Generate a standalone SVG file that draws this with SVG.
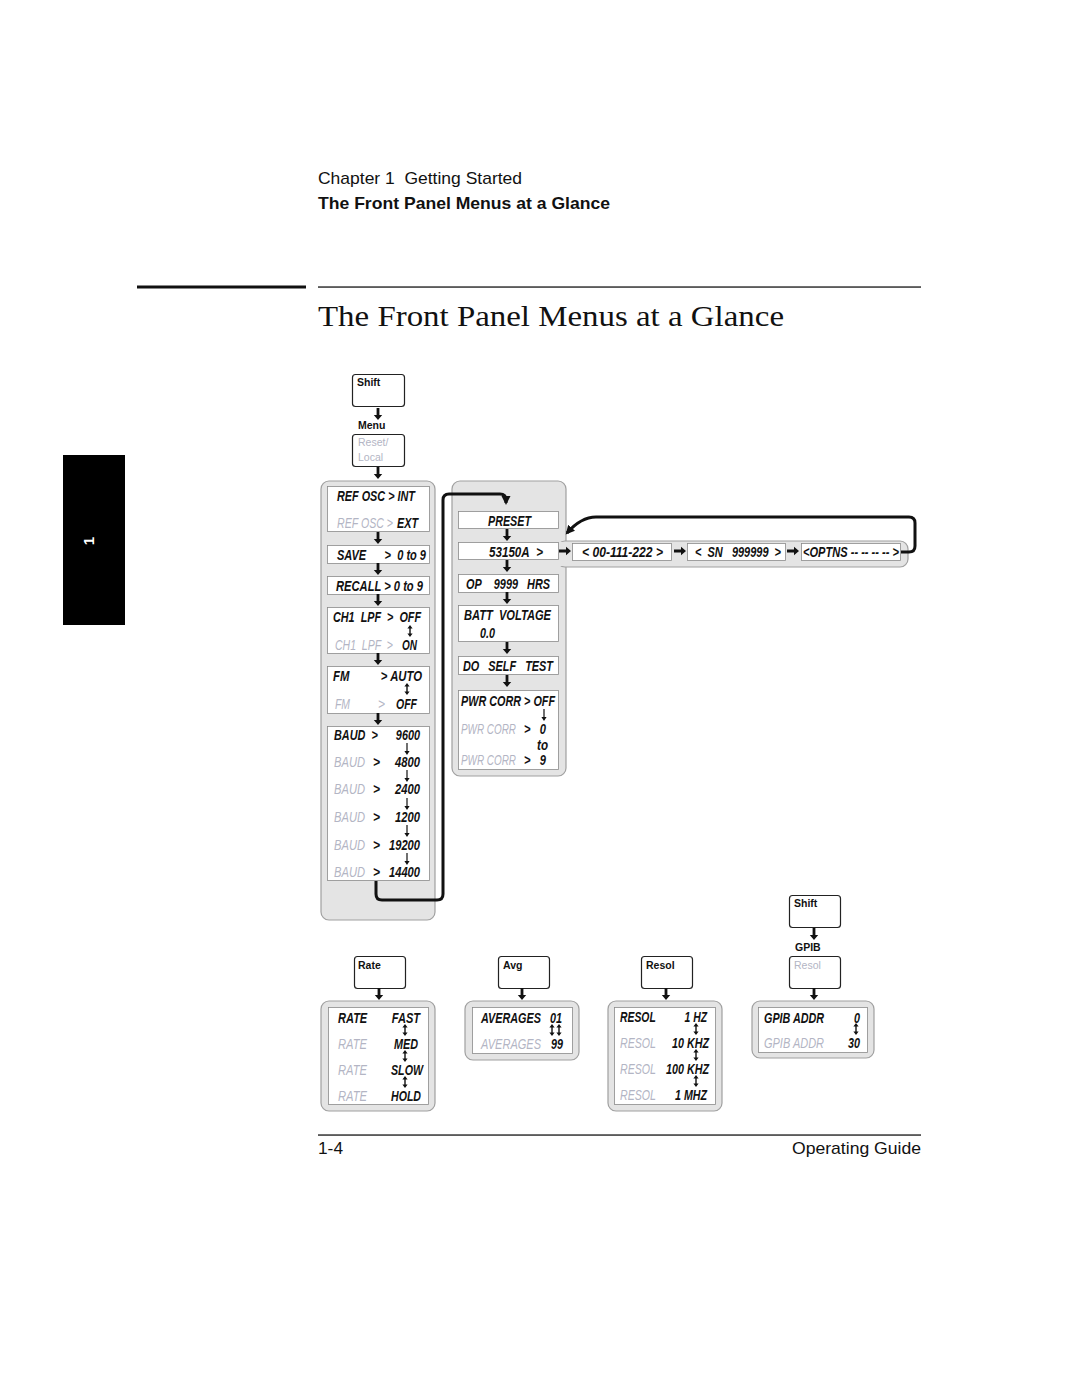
<svg xmlns="http://www.w3.org/2000/svg" xmlns:xlink="http://www.w3.org/1999/xlink" width="1080" height="1397" viewBox="0 0 1080 1397">
<style>
.hd{font-family:"Liberation Sans",Arial,sans-serif;font-size:17px;fill:#111}
.hb{font-family:"Liberation Sans",Arial,sans-serif;font-size:16.5px;font-weight:bold;fill:#111}
.ti{font-family:"Liberation Serif","Times New Roman",serif;font-size:30px;fill:#111}
.t{font-family:"Liberation Sans",Arial,sans-serif;font-size:14.5px;font-weight:bold;font-style:italic;fill:#111}
.g{font-family:"Liberation Sans",Arial,sans-serif;font-size:14.5px;font-weight:normal;font-style:italic;fill:#b3b5c4}
.b{font-weight:bold;fill:#111}
.k{font-family:"Liberation Sans",Arial,sans-serif;font-size:10.5px;font-weight:bold;fill:#111}
.kg{font-family:"Liberation Sans",Arial,sans-serif;font-size:10.5px;fill:#b3b5c4}
.key{fill:#fff;stroke:#222;stroke-width:1.2}
.pan{fill:#e4e4e4;stroke:#a0a0a0;stroke-width:1.2}
.box{fill:#fff;stroke:#8a8a8a;stroke-width:0.8}
.con{fill:none;stroke:#111;stroke-width:3;stroke-linejoin:round}
</style>
<defs>
<path id="dn" d="M-1.4 0 H1.4 V7 H4.2 L0 12 L-4.2 7 H-1.4 Z" fill="#111"/>
<path id="rt" d="M0 -1.4 V1.4 H7 V4.2 L12 0 L7 -4.2 V-1.4 Z" fill="#111"/>
<path id="ud" d="M0 -6 L-2.6 -2.4 H-0.7 V2.4 H-2.6 L0 6 L2.6 2.4 H0.7 V-2.4 H2.6 Z" fill="#111"/>
<path id="sd" d="M-0.6 -6 H0.6 V2 H2.6 L0 6 L-2.6 2 H-0.6 Z" fill="#111"/>
<marker id="ah" markerWidth="10" markerHeight="10" refX="7" refY="5" orient="auto" markerUnits="userSpaceOnUse"><path d="M0 0.5 L9 5 L0 9.5 Z" fill="#111"/></marker>
</defs>
<rect width="1080" height="1397" fill="#fff"/>

<g id="header">
<text class="hd" x="318" y="184" textLength="204" lengthAdjust="spacingAndGlyphs">Chapter 1&#160; Getting Started</text>
<text class="hb" x="318" y="209" textLength="292" lengthAdjust="spacingAndGlyphs">The Front Panel Menus at a Glance</text>
<rect x="137" y="285.5" width="169" height="3" fill="#111"/>
<rect x="318" y="286.3" width="603" height="1.5" fill="#333"/>
<text class="ti" x="318" y="326" textLength="466" lengthAdjust="spacingAndGlyphs">The Front Panel Menus at a Glance</text>
</g>

<g id="tab">
<rect x="63" y="455" width="62" height="170" fill="#000"/>
<text x="0" y="0" transform="translate(94,541) rotate(-90)" text-anchor="middle" style="font-family:'Liberation Sans',Arial,sans-serif;font-size:15px;font-weight:bold;fill:#fff">1</text>
</g>

<g id="footer">
<rect x="318" y="1134.3" width="603" height="1.5" fill="#333"/>
<text class="hd" x="318" y="1154" textLength="25" lengthAdjust="spacingAndGlyphs">1-4</text>
<text class="hd" x="792" y="1154" textLength="129" lengthAdjust="spacingAndGlyphs">Operating Guide</text>
</g>

<!-- top keys -->
<g id="key-shift">
<rect class="key" x="352.5" y="374.5" width="52" height="32" rx="3"/>
<text class="k" x="357" y="386">Shift</text>
</g>
<text class="k" x="358" y="429">Menu</text>
<g id="key-reset">
<rect class="key" x="352.5" y="434.5" width="52" height="32" rx="3"/>
<text class="kg" x="358" y="446">Reset/</text>
<text class="kg" x="358" y="461">Local</text>
</g>

<!-- left panel -->
<g id="panel-left">
<rect class="pan" x="321" y="481" width="114" height="439" rx="8"/>
<g id="n-refosc">
<rect class="box" x="327.5" y="486.5" width="102" height="45"/>
<text class="t" x="337" y="501" textLength="78" lengthAdjust="spacingAndGlyphs">REF OSC &gt; INT</text>
<text class="g" y="528"><tspan x="337" textLength="56" lengthAdjust="spacingAndGlyphs">REF OSC &gt;</tspan><tspan class="b" x="397" textLength="21" lengthAdjust="spacingAndGlyphs">EXT</tspan></text>
</g>
<g id="n-save">
<rect class="box" x="327.5" y="545.5" width="102" height="18"/>
<text class="t" x="337" y="560" textLength="89" lengthAdjust="spacingAndGlyphs">SAVE&#160;&#160;&#160;&#160;&#160;&#160;&gt;&#160;&#160;0 to 9</text>
</g>
<g id="n-recall">
<rect class="box" x="327.5" y="576.5" width="102" height="18"/>
<text class="t" x="336" y="591" textLength="87" lengthAdjust="spacingAndGlyphs">RECALL &gt; 0 to 9</text>
</g>
<g id="n-ch1lpf">
<rect class="box" x="327.5" y="607.5" width="102" height="46"/>
<text class="t" x="333" y="622" textLength="88" lengthAdjust="spacingAndGlyphs">CH1&#160;&#160;LPF&#160;&#160;&gt;&#160;&#160;OFF</text>
<use href="#ud" x="410" y="631"/>
<text class="g" y="650"><tspan x="335" textLength="58" lengthAdjust="spacingAndGlyphs">CH1&#160;&#160;LPF&#160;&#160;&gt;</tspan><tspan class="b" x="402" textLength="15" lengthAdjust="spacingAndGlyphs">ON</tspan></text>
</g>
<g id="n-fm">
<rect class="box" x="327.5" y="666.5" width="102" height="47"/>
<text class="t" x="333" y="681" textLength="89" lengthAdjust="spacingAndGlyphs">FM&#160;&#160;&#160;&#160;&#160;&#160;&#160;&#160;&#160;&#160;&gt; AUTO</text>
<use href="#ud" x="407" y="689"/>
<text class="g" y="709"><tspan x="335" textLength="15" lengthAdjust="spacingAndGlyphs">FM</tspan><tspan x="378" textLength="7" lengthAdjust="spacingAndGlyphs">&gt;</tspan><tspan class="b" x="396" textLength="21" lengthAdjust="spacingAndGlyphs">OFF</tspan></text>
</g>
<g id="n-baud">
<rect class="box" x="327.5" y="726.5" width="102" height="154"/>
<text class="t" x="334" y="740" textLength="86" lengthAdjust="spacingAndGlyphs">BAUD&#160;&#160;&gt;&#160;&#160;&#160;&#160;&#160;&#160;9600</text>
<use href="#sd" x="407" y="749"/>
<text class="g" y="767"><tspan x="334" textLength="31" lengthAdjust="spacingAndGlyphs">BAUD</tspan><tspan class="b" x="373" textLength="7" lengthAdjust="spacingAndGlyphs">&gt;</tspan><tspan class="b" x="395" textLength="25" lengthAdjust="spacingAndGlyphs">4800</tspan></text>
<use href="#sd" x="407" y="776"/>
<text class="g" y="794"><tspan x="334" textLength="31" lengthAdjust="spacingAndGlyphs">BAUD</tspan><tspan class="b" x="373" textLength="7" lengthAdjust="spacingAndGlyphs">&gt;</tspan><tspan class="b" x="395" textLength="25" lengthAdjust="spacingAndGlyphs">2400</tspan></text>
<use href="#sd" x="407" y="804"/>
<text class="g" y="822"><tspan x="334" textLength="31" lengthAdjust="spacingAndGlyphs">BAUD</tspan><tspan class="b" x="373" textLength="7" lengthAdjust="spacingAndGlyphs">&gt;</tspan><tspan class="b" x="395" textLength="25" lengthAdjust="spacingAndGlyphs">1200</tspan></text>
<use href="#sd" x="407" y="831"/>
<text class="g" y="850"><tspan x="334" textLength="31" lengthAdjust="spacingAndGlyphs">BAUD</tspan><tspan class="b" x="373" textLength="7" lengthAdjust="spacingAndGlyphs">&gt;</tspan><tspan class="b" x="389" textLength="31" lengthAdjust="spacingAndGlyphs">19200</tspan></text>
<use href="#sd" x="407" y="859"/>
<text class="g" y="877"><tspan x="334" textLength="31" lengthAdjust="spacingAndGlyphs">BAUD</tspan><tspan class="b" x="373" textLength="7" lengthAdjust="spacingAndGlyphs">&gt;</tspan><tspan class="b" x="389" textLength="31" lengthAdjust="spacingAndGlyphs">14400</tspan></text>
</g>
</g>

<!-- middle panel -->
<g id="panel-mid">
<rect class="pan" x="452" y="481" width="114" height="295" rx="8"/>
<rect class="pan" x="557" y="541" width="351" height="26" rx="8"/>
<rect x="555" y="542" width="14" height="24" fill="#e4e4e4"/>
<g id="n-preset">
<rect class="box" x="458.5" y="511.5" width="100" height="17"/>
<text class="t" x="488" y="525.5" textLength="43" lengthAdjust="spacingAndGlyphs">PRESET</text>
</g>
<g id="n-model">
<rect class="box" x="458.5" y="542.5" width="100" height="17"/>
<text class="t" x="489" y="556.5" textLength="54" lengthAdjust="spacingAndGlyphs">53150A&#160;&#160;&gt;</text>
</g>
<g id="n-op">
<rect class="box" x="458.5" y="574.5" width="100" height="18"/>
<text class="t" x="466" y="589" textLength="84" lengthAdjust="spacingAndGlyphs">OP&#160;&#160;&#160;&#160;9999&#160;&#160;&#160;HRS</text>
</g>
<g id="n-batt">
<rect class="box" x="458.5" y="605.5" width="100" height="36"/>
<text class="t" x="464" y="620" textLength="87" lengthAdjust="spacingAndGlyphs">BATT&#160;&#160;VOLTAGE</text>
<text class="t" x="480" y="638" textLength="15" lengthAdjust="spacingAndGlyphs">0.0</text>
</g>
<g id="n-selftest">
<rect class="box" x="458.5" y="656.5" width="100" height="18"/>
<text class="t" x="463" y="671" textLength="90" lengthAdjust="spacingAndGlyphs">DO&#160;&#160;&#160;SELF&#160;&#160;&#160;TEST</text>
</g>
<g id="n-pwrcorr">
<rect class="box" x="458.5" y="690.5" width="100" height="79"/>
<text class="t" x="461" y="706" textLength="94" lengthAdjust="spacingAndGlyphs">PWR CORR &gt; OFF</text>
<use href="#sd" x="544" y="715"/>
<text class="g" y="734"><tspan x="461" textLength="55" lengthAdjust="spacingAndGlyphs">PWR CORR</tspan><tspan class="b" x="524" textLength="22" lengthAdjust="spacingAndGlyphs">&gt;&#160;&#160;&#160;0</tspan></text>
<text class="t" x="537" y="750" textLength="11" lengthAdjust="spacingAndGlyphs">to</text>
<text class="g" y="765"><tspan x="461" textLength="55" lengthAdjust="spacingAndGlyphs">PWR CORR</tspan><tspan class="b" x="524" textLength="22" lengthAdjust="spacingAndGlyphs">&gt;&#160;&#160;&#160;9</tspan></text>
</g>
<g id="n-part">
<rect class="box" x="572.5" y="543.5" width="99" height="17"/>
<text class="t" x="582" y="557" textLength="81" lengthAdjust="spacingAndGlyphs">&lt; 00-111-222 &gt;</text>
</g>
<g id="n-sn">
<rect class="box" x="687.5" y="543.5" width="98" height="17"/>
<text class="t" x="695" y="557" textLength="86" lengthAdjust="spacingAndGlyphs">&lt;&#160;&#160;SN&#160;&#160;&#160;999999&#160;&#160;&gt;</text>
</g>
<g id="n-optns">
<rect class="box" x="801.5" y="543.5" width="99" height="17"/>
<text class="t" x="803" y="557" textLength="96" lengthAdjust="spacingAndGlyphs">&lt;OPTNS -- -- -- -- &gt;</text>
</g>
</g>

<!-- bottom keys -->
<g id="key-shift2">
<rect class="key" x="789.5" y="895.5" width="51" height="32" rx="3"/>
<text class="k" x="794" y="907">Shift</text>
</g>
<text class="k" x="795" y="951">GPIB</text>
<g id="key-gpib-resol">
<rect class="key" x="789.5" y="956.5" width="51" height="32" rx="3"/>
<text class="kg" x="794" y="969">Resol</text>
</g>
<g id="key-rate">
<rect class="key" x="354.5" y="956.5" width="51" height="32" rx="3"/>
<text class="k" x="358" y="969">Rate</text>
</g>
<g id="key-avg">
<rect class="key" x="498.5" y="956.5" width="51" height="32" rx="3"/>
<text class="k" x="503" y="969">Avg</text>
</g>
<g id="key-resol">
<rect class="key" x="641.5" y="956.5" width="51" height="32" rx="3"/>
<text class="k" x="646" y="969">Resol</text>
</g>

<g id="n-rate">
<rect class="pan" x="321" y="1001" width="114" height="110" rx="8"/>
<rect class="box" x="328.5" y="1007.5" width="100" height="97"/>
<text class="t" x="338" y="1023" textLength="82" lengthAdjust="spacingAndGlyphs">RATE&#160;&#160;&#160;&#160;&#160;&#160;&#160;&#160;FAST</text>
<use href="#ud" x="405" y="1030"/>
<text class="g" y="1049"><tspan x="338" textLength="29" lengthAdjust="spacingAndGlyphs">RATE</tspan><tspan class="b" x="394" textLength="24" lengthAdjust="spacingAndGlyphs">MED</tspan></text>
<use href="#ud" x="405" y="1056"/>
<text class="g" y="1075"><tspan x="338" textLength="29" lengthAdjust="spacingAndGlyphs">RATE</tspan><tspan class="b" x="391" textLength="32" lengthAdjust="spacingAndGlyphs">SLOW</tspan></text>
<use href="#ud" x="405" y="1082"/>
<text class="g" y="1101"><tspan x="338" textLength="29" lengthAdjust="spacingAndGlyphs">RATE</tspan><tspan class="b" x="391" textLength="30" lengthAdjust="spacingAndGlyphs">HOLD</tspan></text>
</g>
<g id="n-avg">
<rect class="pan" x="465" y="1001" width="114" height="59" rx="8"/>
<rect class="box" x="472.5" y="1007.5" width="100" height="46"/>
<text class="t" x="481" y="1023" textLength="81" lengthAdjust="spacingAndGlyphs">AVERAGES&#160;&#160;&#160;01</text>
<use href="#ud" x="552" y="1030"/>
<use href="#ud" x="559" y="1030"/>
<text class="g" y="1049"><tspan x="481" textLength="60" lengthAdjust="spacingAndGlyphs">AVERAGES</tspan><tspan class="b" x="551" textLength="12" lengthAdjust="spacingAndGlyphs">99</tspan></text>
</g>
<g id="n-resol">
<rect class="pan" x="608" y="1001" width="114" height="110" rx="8"/>
<rect class="box" x="614.5" y="1007.5" width="101" height="97"/>
<text class="t" x="620" y="1022" textLength="87" lengthAdjust="spacingAndGlyphs">RESOL&#160;&#160;&#160;&#160;&#160;&#160;&#160;&#160;&#160;&#160;1 HZ</text>
<use href="#ud" x="696" y="1029"/>
<text class="g" y="1048"><tspan x="620" textLength="36" lengthAdjust="spacingAndGlyphs">RESOL</tspan><tspan class="b" x="672" textLength="37" lengthAdjust="spacingAndGlyphs">10 KHZ</tspan></text>
<use href="#ud" x="696" y="1055"/>
<text class="g" y="1074"><tspan x="620" textLength="36" lengthAdjust="spacingAndGlyphs">RESOL</tspan><tspan class="b" x="666" textLength="43" lengthAdjust="spacingAndGlyphs">100 KHZ</tspan></text>
<use href="#ud" x="696" y="1081"/>
<text class="g" y="1100"><tspan x="620" textLength="36" lengthAdjust="spacingAndGlyphs">RESOL</tspan><tspan class="b" x="675" textLength="32" lengthAdjust="spacingAndGlyphs">1 MHZ</tspan></text>
</g>
<g id="n-gpib">
<rect class="pan" x="752" y="1001" width="122" height="57" rx="8"/>
<rect class="box" x="758.5" y="1007.5" width="109" height="45"/>
<text class="t" x="764" y="1023" textLength="96" lengthAdjust="spacingAndGlyphs">GPIB ADDR&#160;&#160;&#160;&#160;&#160;&#160;&#160;&#160;&#160;&#160;0</text>
<use href="#ud" x="856" y="1029"/>
<text class="g" y="1048"><tspan x="764" textLength="60" lengthAdjust="spacingAndGlyphs">GPIB ADDR</tspan><tspan class="b" x="848" textLength="12" lengthAdjust="spacingAndGlyphs">30</tspan></text>
</g>

<g id="connectors">
<use href="#dn" x="378" y="408"/>
<use href="#dn" x="378" y="467"/>
<use href="#dn" x="378" y="532"/>
<use href="#dn" x="378" y="563"/>
<use href="#dn" x="378" y="594"/>
<use href="#dn" x="378" y="653"/>
<use href="#dn" x="378" y="713"/>
<use href="#dn" x="507" y="529"/>
<use href="#dn" x="507" y="560"/>
<use href="#dn" x="507" y="592"/>
<use href="#dn" x="507" y="642"/>
<use href="#dn" x="507" y="675"/>
<use href="#rt" x="559" y="551"/>
<use href="#rt" x="674" y="551"/>
<use href="#rt" x="787" y="551"/>
<use href="#dn" x="814" y="928"/>
<use href="#dn" x="379" y="988"/>
<use href="#dn" x="522" y="988"/>
<use href="#dn" x="666" y="988"/>
<use href="#dn" x="814" y="988"/>
<path class="con" d="M376 881 V894 Q376 900 382 900 H437 Q443 900 443 894 V500 Q443 494 449 494 H500 Q506 494 506 500 V503" marker-end="url(#ah)"/>
<path class="con" d="M901 552 H909 Q915 552 915 546 V523 Q915 517 909 517 H596 Q581 517 567 533" marker-end="url(#ah)"/>
</g>
</svg>
